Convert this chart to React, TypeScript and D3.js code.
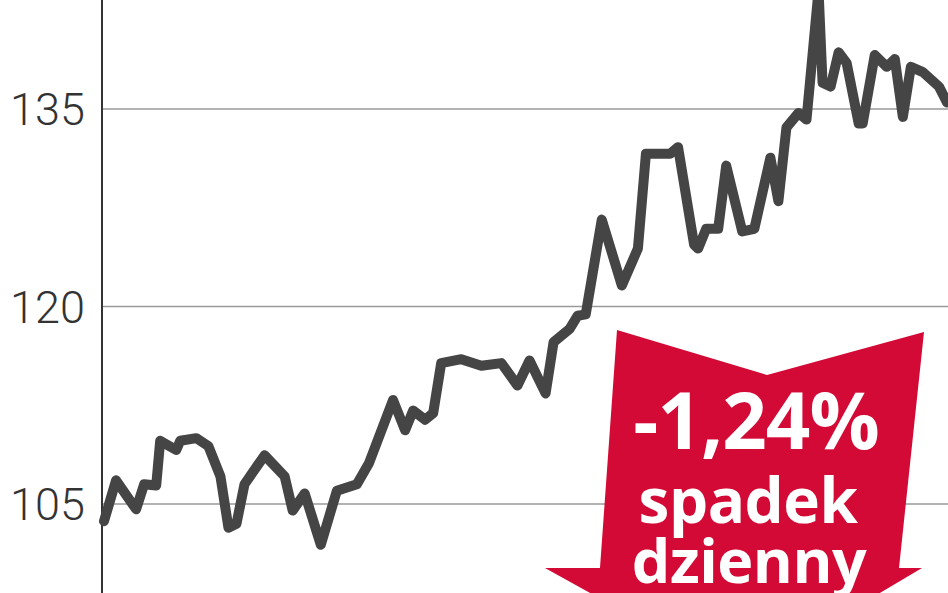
import React from "react";
import * as d3 from "d3";

const W = 948;
const H = 593;

// trading-day index and index value
const days = [0, 3, 8, 10, 13, 14, 18, 19, 23, 26, 29, 31, 33, 35, 40, 45, 47, 50, 54, 58, 63, 66, 72, 75, 77, 80, 82, 84, 89, 94, 99, 103, 106, 110, 112, 116, 118, 120, 124, 129, 133, 135, 141, 143, 147, 148, 150, 153, 155, 159, 162, 166, 168, 170, 173, 175, 178, 179, 181, 183, 185, 188, 189, 192, 195, 197, 199, 201, 204, 208, 210];
const values = [103.7, 106.8, 104.6, 106.5, 106.4, 109.8, 109.1, 109.8, 110.0, 109.4, 107.1, 103.2, 103.5, 106.5, 108.7, 107.1, 104.5, 105.8, 101.9, 106.0, 106.5, 108.1, 112.9, 110.6, 112.1, 111.4, 111.9, 115.7, 116.0, 115.5, 115.7, 114.0, 115.9, 113.4, 117.3, 118.3, 119.3, 119.4, 126.6, 121.6, 124.4, 131.6, 131.6, 132.1, 124.7, 124.4, 125.9, 125.9, 130.7, 125.7, 125.9, 131.3, 128.0, 133.6, 134.7, 134.2, 144.0, 137.0, 136.7, 139.3, 138.5, 133.9, 133.9, 139.1, 138.2, 138.8, 134.4, 138.2, 137.8, 136.7, 135.5];
const yTicks = [105, 120, 135];
const badgeLines = ["-1,24%", "spadek", "dzienny"];

export default function App() {
  const x = d3.scaleLinear().domain([0, 210]).range([104, 947]);
  const y = d3.scaleLinear().domain([105, 135]).range([504, 109]);
  const data = days.map((d, i) => [d, values[i]] as [number, number]);
  const line = d3
    .line<[number, number]>()
    .x((d) => x(d[0]))
    .y((d) => y(d[1]))
    .curve(d3.curveLinear);

  const arrow = [
    [617, 330],
    [767, 375],
    [924, 332],
    [899, 568],
    [922, 568],
    [740, 676],
    [545, 568],
    [600, 568],
  ];

  return (
    <div style={{ position: "absolute", left: 0, top: 0 }}>
      <svg width={W} height={H} style={{ display: "block", background: "#fff" }}>
        {yTicks.map((t) => (
          <g key={t}>
            <line x1={102} x2={W} y1={y(t)} y2={y(t)} stroke="#9a9a9a" strokeWidth={1.6} />
            <text
              x={85}
              y={y(t)}
              dy="0.36em"
              textAnchor="end"
              fontFamily="Roboto, 'Open Sans', sans-serif"
              fontWeight={300}
              fontSize={45}
              fill="#333"
            >
              {t}
            </text>
          </g>
        ))}
        <line x1={102} x2={102} y1={0} y2={H} stroke="#333" strokeWidth={2} />
        <path
          d={line(data) || ""}
          fill="none"
          stroke="#454545"
          strokeWidth={10}
          strokeLinejoin="round"
          strokeLinecap="round"
        />
        <polygon points={arrow.map((p) => p.join(",")).join(" ")} fill="#d20a35" />
        <g fontFamily="'Open Sans', sans-serif" fontWeight={700} fill="#fff" textAnchor="middle">
          <text x={756} y={449} fontSize={78} letterSpacing={-1}>
            {badgeLines[0]}
          </text>
          <text x={748} y={523} fontSize={62} letterSpacing={-0.5}>
            {badgeLines[1]}
          </text>
          <text x={749} y={583} fontSize={61} letterSpacing={-0.5}>
            {badgeLines[2]}
          </text>
        </g>
      </svg>
    </div>
  );
}
